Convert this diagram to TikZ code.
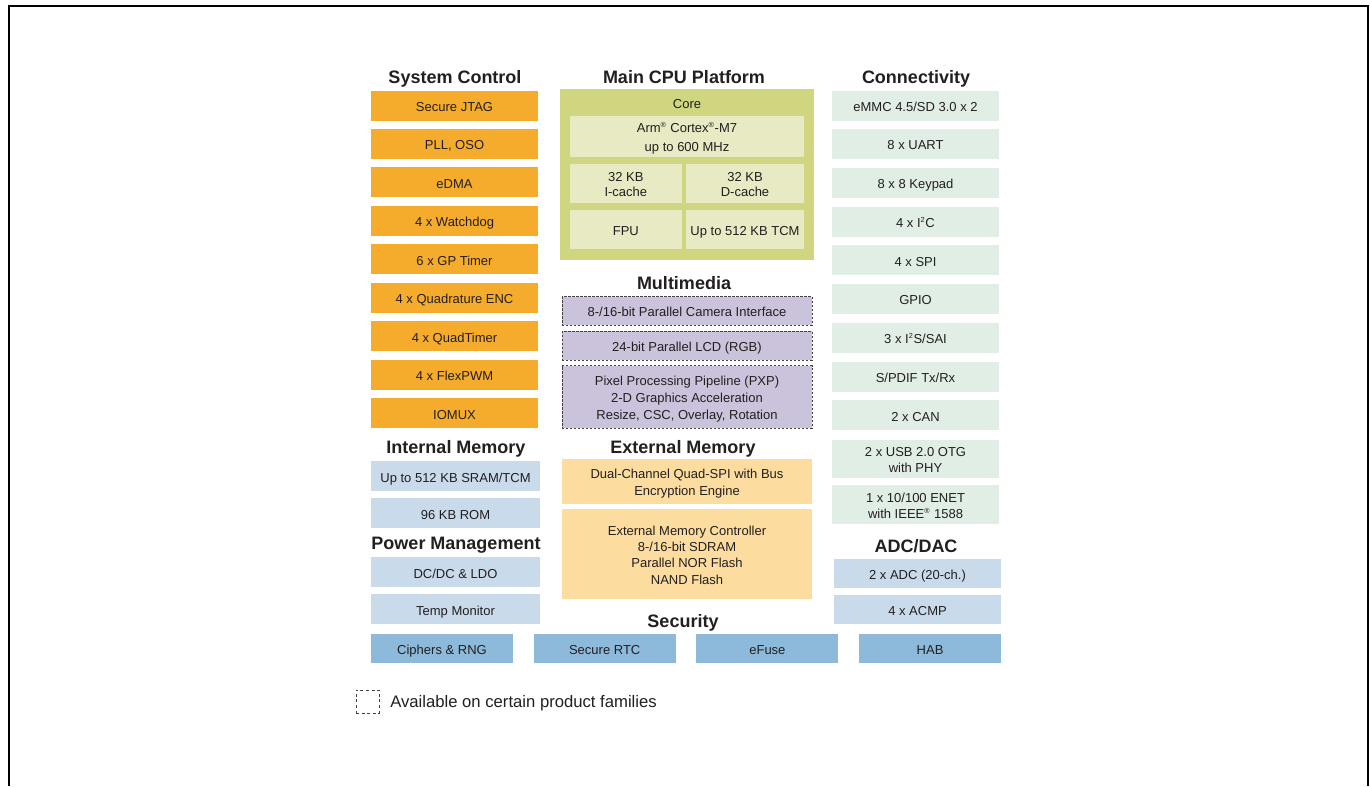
\documentclass[tikz,border=0pt]{standalone}
\usepackage{fontspec}
\setmainfont{Liberation Sans}
\definecolor{txtgray}{HTML}{231F20}
\definecolor{sysorange}{HTML}{F5AB2B}
\definecolor{cpugreen}{HTML}{D0D67F}
\definecolor{cpuinner}{HTML}{E7EAC2}
\definecolor{mmpurple}{HTML}{CBC3DB}
\definecolor{extorange}{HTML}{FDDCA0}
\definecolor{congreen}{HTML}{E0EEE5}
\definecolor{memblue}{HTML}{C9DAEB}
\definecolor{secblue}{HTML}{8DB9DB}
\newcommand\supx[1]{\textsuperscript{\fontsize{5.5}{6}\selectfont #1}}
\newcommand\lines[1]{\begin{tabular}{@{}c@{}}\rule{0pt}{12.5pt}#1\rule[-4pt]{0pt}{4pt}\end{tabular}}

\tikzset{
  wh/.style 2 args={minimum width=#1*0.75pt, minimum height=#2*0.75pt},
  txt/.style={inner sep=0pt, text=txtgray, font=\fontsize{9.75}{12.3}\selectfont},
  one/.style={txt, execute at begin node={\rule{0pt}{12.5pt}}, execute at end node={\rule[-4pt]{0pt}{4pt}}},
  title/.style={inner sep=0pt, text=txtgray, font=\fontsize{13.5}{16}\selectfont\bfseries,
    execute at begin node={\rule{0pt}{12.9pt}}, execute at end node={\rule[-3.2pt]{0pt}{3.2pt}}},
  sysbox/.style={fill=sysorange, wh={167}{30}},
  cpubox/.style={fill=cpuinner},
  mmbox/.style={fill=mmpurple, draw=txtgray!85, line width=0.6pt, dash pattern=on 1.8pt off 1.2pt},
  extbox/.style={fill=extorange},
  membox/.style={fill=memblue, wh={169}{30}},
  conbox/.style={fill=congreen, wh={167}{30}},
  secbox/.style={fill=secblue, wh={142}{28.7}}
}

\begin{document}
\begin{tikzpicture}[x=0.75pt,y=-0.75pt]
\useasboundingbox (0,0) rectangle (1370,786);
\draw[line width=1.5pt] (9,786) -- (9,6) -- (1368,6) -- (1368,786);

% titles
\node[title] (tsys) at (455,76.7) {System Control};
\node[title] (tcpu) at (684,76.7) {Main CPU Platform};
\node[title] (tcon) at (916,76.7) {Connectivity};
\node[title] (tmm) at (684,283.3) {Multimedia};
\node[title] (tint) at (456,446.7) {Internal Memory};
\node[title] (tem) at (683,446.7) {External Memory};
\node[title] (tpow) at (456,543.3) {Power Management};
\node[title] (tadc) at (916,545.7) {ADC/DAC};
\node[title] (tsec) at (683,621) {Security};

% system control
\foreach \name [count=\i from 0] in {Secure JTAG, {PLL, OSO}, eDMA, 4 x Watchdog, 6 x GP Timer, 4 x Quadrature ENC, 4 x QuadTimer, 4 x FlexPWM, IOMUX}
  \node[one, sysbox] (sys\i) at (454.5,105.5+38.48*\i) {\name};

% main cpu platform
\node[fill=cpugreen, wh={254}{171}, inner sep=0pt] (cpu) at (687,174.5) {};
\node[one] (core) at (687,102.7) {Core};
\node[txt, cpubox, wh={234}{40.7}, font=\fontsize{9.75}{13.7}\selectfont] (arm) at (687,136.35) {\lines{Arm\supx{®} Cortex\supx{®}-M7\\up to 600 MHz}};
\node[txt, cpubox, wh={111.7}{38.7}, font=\fontsize{9.75}{10.7}\selectfont] (icache) at (625.85,183.35) {\lines{32 KB\\I-cache}};
\node[txt, cpubox, wh={118}{38.7}, font=\fontsize{9.75}{10.7}\selectfont] (dcache) at (745,183.35) {\lines{32 KB\\D-cache}};
\node[one, cpubox, wh={111.7}{38.7}] (fpu) at (625.85,229.35) {FPU};
\node[one, cpubox, wh={118}{38.7}] (tcm) at (745,229.35) {Up to 512 KB TCM};

% multimedia
\node[one, mmbox, wh={250}{28.6}] (csi) at (687,311) {8-/16-bit Parallel Camera Interface};
\node[one, mmbox, wh={250}{28.7}] (lcd) at (687,345.65) {24-bit Parallel LCD (RGB)};
\node[txt, mmbox, wh={250}{62.3}, font=\fontsize{9.75}{12.5}\selectfont] (pxp) at (687,396.85) {\lines{Pixel Processing Pipeline (PXP)\\2-D Graphics Acceleration\\Resize, CSC, Overlay, Rotation}};

% external memory
\node[txt, extbox, wh={250}{44.7}] (qspi) at (687,481.35) {\lines{Dual-Channel Quad-SPI with Bus\\Encryption Engine}};
\node[txt, extbox, wh={250}{90.6}] (emc) at (687,554) {\lines{External Memory Controller\\8-/16-bit SDRAM\\Parallel NOR Flash\\NAND Flash}};

% internal memory, power
\node[one, membox] (sram) at (455.5,476.35) {Up to 512 KB SRAM/TCM};
\node[one, membox] (rom) at (455.5,513.35) {96 KB ROM};
\node[one, membox] (dcdc) at (455.5,572.35) {DC/DC \& LDO};
\node[one, membox] (temp) at (455.5,609.35) {Temp Monitor};

% connectivity
\foreach \name [count=\i from 0] in {eMMC 4.5/SD 3.0 x 2, 8 x UART, 8 x 8 Keypad, 4 x I\supx{2}C, 4 x SPI, GPIO, 3 x I\supx{2}S/SAI, S/PDIF Tx/Rx, 2 x CAN}
  \node[one, conbox] (con\i) at (915.5,105.5+38.73*\i) {\name};
\node[txt, conbox, wh={167}{37.7}, font=\fontsize{9.75}{11.5}\selectfont] (usb) at (915.5,458.85) {\lines{2 x USB 2.0 OTG\\with PHY}};
\node[txt, conbox, wh={167}{38}, font=\fontsize{9.75}{12.5}\selectfont] (enet) at (915.5,504.7) {\lines{1 x 10/100 ENET\\with IEEE\supx{®} 1588}};

% adc/dac
\node[one, membox, wh={167}{28.7}] (adc) at (917.5,573.35) {2 x ADC (20-ch.)};
\node[one, membox, wh={167}{28.7}] (acmp) at (917.5,609.35) {4 x ACMP};

% security
\foreach \name [count=\i from 0] in {Ciphers \& RNG, Secure RTC, eFuse, HAB}
  \node[one, secbox] (sec\i) at (442+162.7*\i,648.35) {\name};

% legend
\node[draw=txtgray!85, line width=0.6pt, dash pattern=on 2.2pt off 2pt, wh={23}{23}, inner sep=0pt] (legbox) at (367.5,701.5) {};
\node[anchor=base west, inner sep=0pt, text=txtgray, font=\fontsize{12.5}{14}\selectfont] (legtext) at (390,707) {Available on certain product families};
\end{tikzpicture}
\end{document}
